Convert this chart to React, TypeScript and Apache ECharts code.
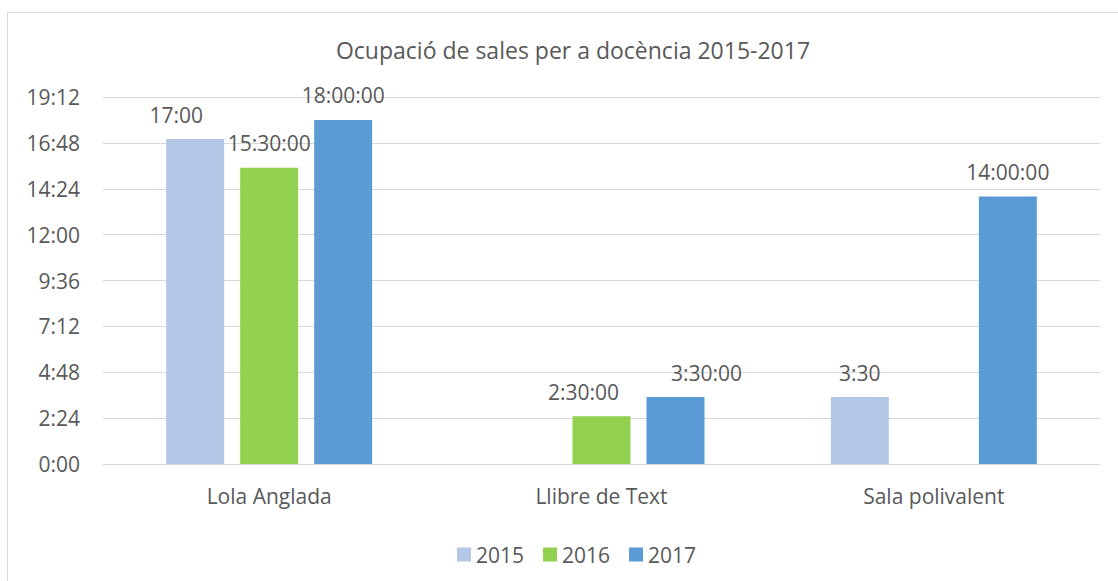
import React, { useEffect, useRef } from "react";
import * as echarts from "echarts";

const categories = ["Lola Anglada", "Llibre de Text", "Sala polivalent"];
const seriesNames = ["2015", "2016", "2017"];
// values in hours
const hours2015 = [17, null, 3.5];
const hours2016 = [15.5, 2.5, null];
const hours2017 = [18, 3.5, 14];
const seriesValues = [hours2015, hours2016, hours2017];
const labelFormats = ["h:mm", "h:mm:ss", "h:mm:ss"];
const colors = ["#b4c7e7", "#92d050", "#5b9bd5"];
const yMin = 0;
const yMax = 19.2;
const yInterval = 2.4;

// label nudges (Excel auto-placement), per series, per category
const labelShifts: (number[] | null)[][] = [
  [[-19, 0], null, null],
  [null, [-18, 0], null],
  [null, [31, 0], null],
];

const FONT = "'Open Sans', sans-serif";
const TEXT = "#595959";

function fmt(hours: number, withSeconds: boolean): string {
  const totalSec = Math.round(hours * 3600);
  const h = Math.floor(totalSec / 3600);
  const m = Math.floor((totalSec % 3600) / 60);
  const s = totalSec % 60;
  const mm = String(m).padStart(2, "0");
  const ss = String(s).padStart(2, "0");
  return withSeconds ? `${h}:${mm}:${ss}` : `${h}:${mm}`;
}

export default function App() {
  const ref = useRef<HTMLDivElement>(null);
  useEffect(() => {
    document.body.style.margin = "0";
    if (!ref.current) return;
    const chart = echarts.init(ref.current, undefined, { renderer: "svg" });
    const series = seriesNames.map((name, si) => ({
      name,
      type: "bar",
      barWidth: 58,
      barGap: "27.6%",
      itemStyle: { color: colors[si] },
      data: seriesValues[si].map((v, ci) => {
        const shift = labelShifts[si][ci];
        const item: any = { value: v };
        if (shift) item.label = { offset: shift };
        return item;
      }),
      label: {
        show: true,
        position: "top",
        distance: 14,
        color: TEXT,
        fontFamily: FONT,
        fontSize: 21,
        formatter: (p: any) =>
          p.value == null ? "" : fmt(p.value, labelFormats[si] === "h:mm:ss"),
      },
    }));
    chart.setOption({
      animation: false,
      backgroundColor: "#ffffff",
      textStyle: { fontFamily: FONT },
      title: {
        text: "Ocupació de sales per a docència 2015-2017",
        left: 568,
        textAlign: "center",
        top: 33,
        textStyle: {
          color: TEXT,
          fontFamily: FONT,
          fontSize: 23,
          fontWeight: "normal",
        },
      },
      legend: {
        data: seriesNames,
        left: 452,
        top: 539,
        itemWidth: 14,
        itemHeight: 14,
        itemGap: 19,
        icon: "rect",
        textStyle: { color: TEXT, fontFamily: FONT, fontSize: 21 },
      },
      grid: { left: 103, right: 18, top: 97, bottom: 117, containLabel: false },
      xAxis: {
        type: "category",
        data: categories,
        axisLine: { show: true, lineStyle: { color: "#d9d9d9", width: 1 } },
        axisTick: { show: false },
        axisLabel: {
          color: TEXT,
          fontFamily: FONT,
          fontSize: 21,
          margin: 21,
        },
      },
      yAxis: {
        type: "value",
        min: yMin,
        max: yMax,
        interval: yInterval,
        axisLine: { show: false },
        axisTick: { show: false },
        splitLine: { lineStyle: { color: "#d9d9d9", width: 1 } },
        axisLabel: {
          color: TEXT,
          fontFamily: FONT,
          fontSize: 21,
          margin: 23,
          formatter: (v: number) => fmt(v, false),
        },
      },
      graphic: [
        {
          type: "rect",
          shape: { x: 7.5, y: 12.5, width: 1300, height: 800 },
          style: { fill: "none", stroke: "#d9d9d9", lineWidth: 1 },
          silent: true,
        },
      ],
      series,
    });
    return () => chart.dispose();
  }, []);
  return <div ref={ref} style={{ width: 1118, height: 581 }} />;
}
